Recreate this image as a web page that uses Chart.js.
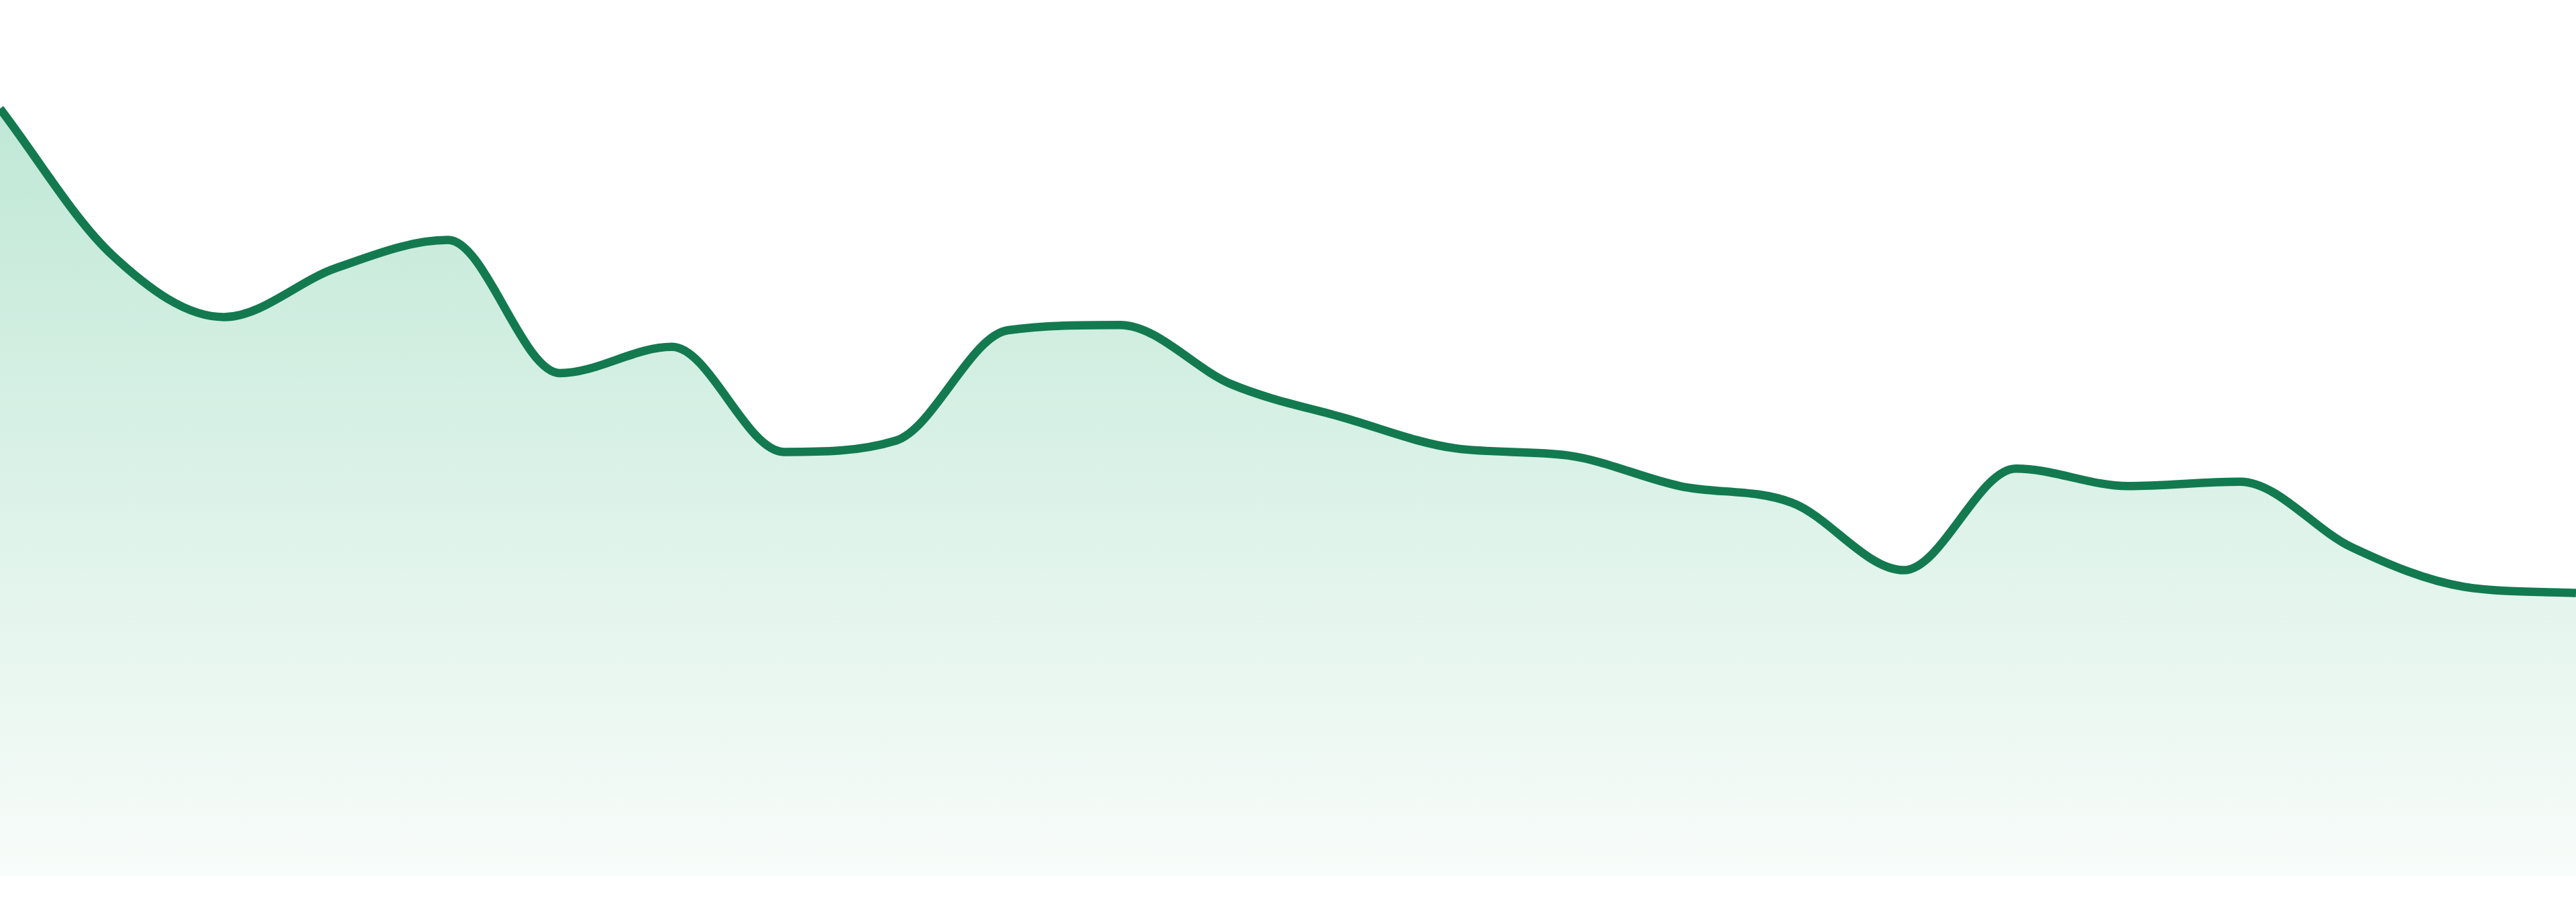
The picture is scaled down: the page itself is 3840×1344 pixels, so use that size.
<!DOCTYPE html>
<html>
<head>
<meta charset="utf-8">
<script src="https://cdn.jsdelivr.net/npm/chart.js@4"></script>
<style>
  html, body { margin: 0; padding: 0; background: #ffffff; overflow: hidden; }
  #wrap { position: relative; width: 100vw; height: 100vh; }
</style>
</head>
<body>
<div id="wrap"><canvas id="areaChart"></canvas></div>
<script>
const labels = ['1', '2', '3', '4', '5', '6', '7', '8', '9', '10', '11', '12',
  '13', '14', '15', '16', '17', '18', '19', '20', '21', '22', '23', '24'];
const values = [87.6, 70.9, 63.8, 69.4, 72.6, 57.4, 60.4, 48.4, 49.7, 62.3, 62.9, 56.1,
  52.3, 48.8, 48.0, 44.5, 42.6, 34.9, 46.5, 44.5, 45.0, 37.5, 33.0, 32.3];
const yMin = 0;
const yMax = 100;

// sizes below are in screenshot pixels of a 3840 wide picture
const k = window.innerWidth / 3840;

const ctx = document.getElementById('areaChart').getContext('2d');
const areaChart = new Chart(ctx, {
  type: 'line',
  data: {
    labels: labels,
    datasets: [{
      data: values,
      borderColor: '#137a50',
      borderWidth: 12.5 * k,
      pointRadius: 0,
      pointHoverRadius: 0,
      cubicInterpolationMode: 'monotone',
      fill: 'start',
      backgroundColor: (c) => {
        const area = c.chart.chartArea;
        if (!area) return '#d6f0e4';
        const g = c.chart.ctx.createLinearGradient(0, area.top, 0, area.bottom);
        g.addColorStop(0, '#b8e5d1');
        g.addColorStop(1, '#f8fcfa');
        return g;
      }
    }]
  },
  options: {
    responsive: true,
    maintainAspectRatio: false,
    animation: false,
    layout: { padding: { top: 0, left: 0, right: 0, bottom: 39 * k } },
    plugins: { legend: { display: false }, tooltip: { enabled: false } },
    scales: {
      x: { display: false },
      y: { display: false, min: yMin, max: yMax }
    }
  }
});
</script>
</body>
</html>
